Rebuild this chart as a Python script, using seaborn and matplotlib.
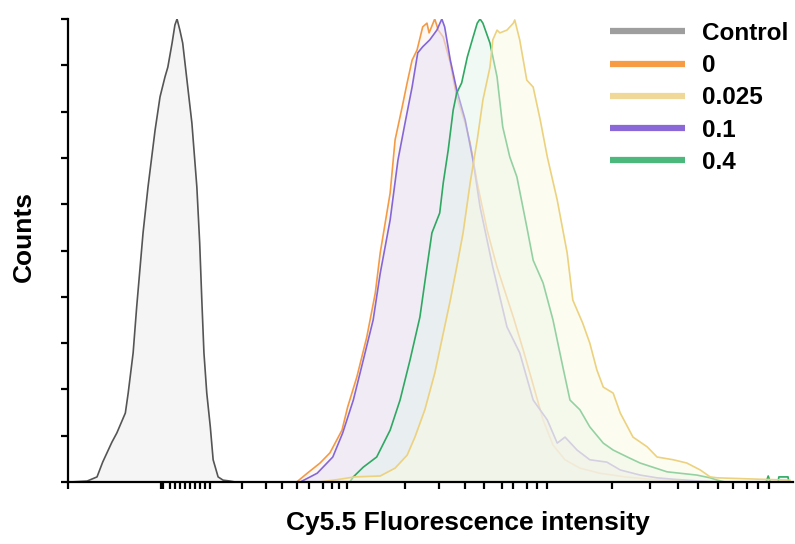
import matplotlib
matplotlib.use("Agg")
import matplotlib.pyplot as plt
from matplotlib.lines import Line2D
import seaborn as sns
import pandas as pd

# histogram outlines: channel (0-1024) vs % of max
CONTROL_X = [3, 27, 41, 49, 62, 69, 81, 85, 92, 97, 106, 113, 123, 130, 137, 141, 147, 151, 154,
             158, 162, 175, 182, 186, 189, 192, 196, 201, 205, 212, 219, 229, 236]
CONTROL_Y = [0, 0.2, 1.1, 4.3, 8.6, 10.6, 14.9, 19.2, 27.9, 37.8, 53.8, 63.7, 76, 83.2, 87.5, 89.6, 94.8, 98.7, 100,
             97.6, 94.8, 77.5, 63.7, 51.6, 39.3, 27.9, 19.2, 11.9, 4.8, 1.1, 0.4, 0.2, 0]

ZERO_X = [323, 338, 356, 370, 387, 395, 408, 422, 434, 441, 455, 462, 472, 479, 486, 493, 501, 507, 510,
          518, 523, 530, 540, 549, 561, 568, 578, 592, 606, 629, 643, 657, 671, 685, 702, 723, 751,
          787, 822, 864, 907]
ZERO_Y = [0, 1.9, 4.1, 6.3, 11.2, 16.2, 22.7, 31.3, 40.8, 49.5, 62.4, 73.9, 81, 86.2, 91.1, 93.3, 98.3, 99.1, 97,
          100, 97.6, 96.1, 90.5, 83.2, 77.5, 73.2, 64.6, 54.4, 46.4, 35.6, 28.5, 21, 13.4, 8, 4.8, 3, 1.9,
          1.1, 0.6, 0.2, 0]

LOW_X = [328, 342, 352, 374, 388, 403, 417, 431, 441, 455, 466, 476, 486, 494, 501, 511, 521, 528, 532,
         540, 549, 561, 572, 582, 600, 620, 638, 657, 677, 691, 702, 719, 737, 761, 780, 808, 832,
         855, 893, 921]
LOW_Y = [0, 1.1, 1.9, 5.4, 10.6, 17.7, 26.3, 35, 45.1, 56.6, 69.5, 77.5, 85.3, 92.7, 94, 95.5, 97.6, 100, 98.3,
         91.1, 84.7, 78.2, 69.5, 59.4, 46.4, 33.5, 27.9, 17.7, 13.4, 8.4, 9.7, 6.9, 4.8, 4.3, 2.6, 1.5, 0.9,
         0.6, 0.2, 0]

HIGH_X = [398, 403, 417, 436, 455, 469, 483, 497, 507, 514, 525, 530, 537, 544, 549, 556, 564, 571, 578,
          582, 586, 596, 606, 614, 624, 634, 648, 657, 671, 685, 699, 709, 723, 737, 756, 770, 790,
          808, 826, 846, 864, 888, 907, 917, 928, 986, 989, 992, 1003, 1004, 1017, 1018]
HIGH_Y = [0, 1.1, 3.2, 5.4, 11.2, 17.7, 26.3, 35.6, 46.4, 53.8, 58.1, 64.6, 71.7, 80.3, 84, 86.2, 91.8, 95.5, 99.1,
          100, 99.1, 94.8, 87.5, 76.7, 70.2, 65.9, 55.1, 47.9, 43, 35, 24.8, 17.7, 15.6, 11.9, 8.4, 6.9, 5.4,
          4.1, 3.2, 2.2, 1.9, 1.5, 0.9, 0.4, 0, 0, 1.3, 0, 0, 1.1, 1.1, 0]

MID_X = [356, 384, 405, 441, 462, 479, 490, 504, 518, 540, 549, 558, 568, 578, 586, 596, 600, 606, 610,
         620, 629, 631, 638, 648, 657, 667, 677, 691, 705, 713, 727, 737, 747, 756, 770, 780, 798,
         818, 832, 855, 874, 893, 907, 917, 977, 1020]
MID_Y = [0, 0.6, 1.1, 1.3, 3, 5.8, 9.7, 15.6, 23.5, 39.3, 46.4, 53.8, 64.6, 73.9, 82.5, 89.6, 95.5, 97.6, 97,
         97.6, 99.1, 99.8, 95.5, 86.8, 85.3, 78.2, 70.2, 60.9, 49.5, 39.3, 34.3, 30, 24.2, 20.5, 19.2, 14.9, 9.7,
         7.6, 5.4, 4.8, 4.1, 2.6, 1.1, 0.9, 0.6, 0.4]

LABELS = ["Control", "0", "0.025", "0.1", "0.4"]

# axis ticks (channel units)
X_TICKS = [0, 132, 134, 144, 151, 158, 165, 172, 179, 186, 194, 201,
           246, 280, 302, 323, 340, 360, 373, 383, 394,
           476, 524, 561, 588, 613, 629, 648, 662, 677,
           768, 822, 862, 890, 918, 939, 959, 975, 990]
Y_TICKS = [0, 10, 20, 30, 40, 50, 60, 70, 80, 90, 100]

sns.set_theme(style="white")
plt.rcParams["font.family"] = ["Liberation Sans", "DejaVu Sans"]
plt.rcParams["text.color"] = "black"
plt.rcParams["axes.labelcolor"] = "black"

frames = []
for name, xs, ys in [("Control", CONTROL_X, CONTROL_Y), ("0", ZERO_X, ZERO_Y),
                     ("0.1", LOW_X, LOW_Y), ("0.4", HIGH_X, HIGH_Y), ("0.025", MID_X, MID_Y)]:
    frames.append(pd.DataFrame({"channel": xs, "pct": ys, "sample": name}))
df = pd.concat(frames, ignore_index=True)

# line colour, fill colour, fill alpha
style = {
    "Control": ("#555555", "#f5f5f5", 1.0),
    "0": ("#f49a45", "#fdf3ea", 0.5),
    "0.1": ("#8466d8", "#e8e3f7", 0.6),
    "0.4": ("#2fa862", "#e2f2ea", 0.45),
    "0.025": ("#ecd27e", "#fafae2", 0.5),
}
legend_colors = {"Control": "#9e9e9e", "0": "#f79b45", "0.025": "#f0d898",
                 "0.1": "#8a68d8", "0.4": "#4cb87c"}

fig = plt.figure(figsize=(7.95, 5.44), dpi=100)
ax = fig.add_axes([68 / 795, 1 - 482 / 544, 725 / 795, 463 / 544])

for name in ["Control", "0", "0.1", "0.4", "0.025"]:
    sub = df[df["sample"] == name]
    lc, fc, fa = style[name]
    ax.fill_between(sub["channel"], 0, sub["pct"], color=fc, alpha=fa, lw=0, zorder=2)
    sns.lineplot(data=sub, x="channel", y="pct", color=lc, lw=1.2, estimator=None,
                 sort=False, ax=ax, zorder=2)

ax.set_xlim(0, 1024)
ax.set_ylim(0, 100)
ax.set_xticks(X_TICKS)
ax.set_yticks(Y_TICKS)
ax.set_xticklabels([])
ax.set_yticklabels([])
ax.tick_params(axis="both", direction="out", length=5, width=1.6, color="black", bottom=True, left=True)
for side in ["top", "right"]:
    ax.spines[side].set_visible(False)
for side in ["left", "bottom"]:
    ax.spines[side].set_color("black")
    ax.spines[side].set_linewidth(1.6)
    ax.spines[side].set_zorder(5)

ax.set_xlabel("Cy5.5 Fluorescence intensity", fontsize=19, fontweight="bold", va="center")
ax.set_ylabel("Counts", fontsize=19, fontweight="bold", va="center")
ax.xaxis.set_label_coords((468 - 68) / 725, (482 - 523) / 463)
ax.yaxis.set_label_coords((24 - 68) / 725, (482 - 237) / 463)

handles = [Line2D([], [], color=legend_colors[l], lw=4.5, solid_capstyle="butt") for l in LABELS]
fig.legend(handles, LABELS, loc="upper left", bbox_to_anchor=(610 / 795, 1 - 22 / 544),
           frameon=False, borderpad=0, borderaxespad=0, handlelength=3.1, handletextpad=0.7,
           labelspacing=0.38, prop={"size": 17.5, "weight": "bold"})

fig.savefig("out.png", dpi=100)
